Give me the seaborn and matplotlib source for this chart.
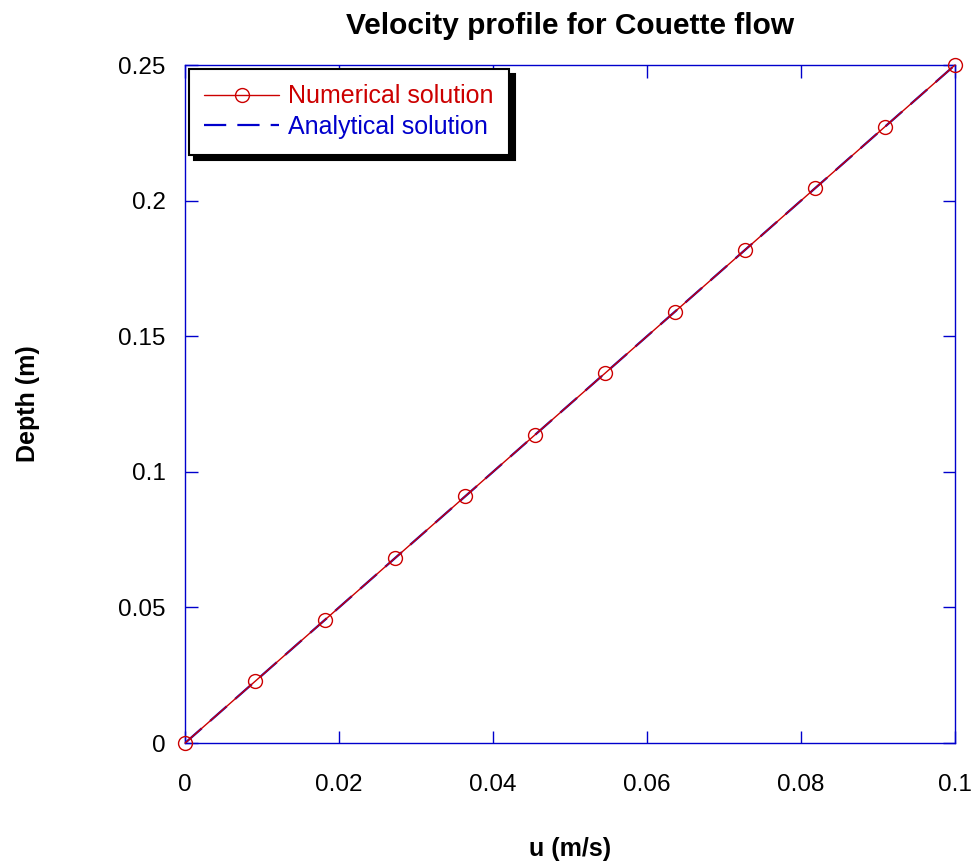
#!/usr/bin/env python3
"""Velocity profile for Couette flow: numerical vs analytical."""

import pandas as pd
import seaborn as sns
import matplotlib.pyplot as plt


U_NUM = [0, 0.00909, 0.01818, 0.02727, 0.03636, 0.04545,
         0.05455, 0.06364, 0.07273, 0.08182, 0.09091, 0.1]
DEPTH_NUM = [0, 0.02273, 0.04545, 0.06818, 0.09091, 0.11364,
             0.13636, 0.15909, 0.18182, 0.20455, 0.22727, 0.25]
U_ANA = [0, 0.1]
DEPTH_ANA = [0, 0.25]

RED = "#cc0000"
BLUE = "#0000cc"


def main():
    num = pd.DataFrame({"u": U_NUM, "depth": DEPTH_NUM})
    ana = pd.DataFrame({"u": U_ANA, "depth": DEPTH_ANA})

    sns.set_theme(style="white")
    plt.rcParams["font.family"] = ["Liberation Sans", "DejaVu Sans"]
    plt.rcParams["text.color"] = "black"
    plt.rcParams["axes.labelcolor"] = "black"

    fig = plt.figure(figsize=(9.74, 8.67), dpi=100)
    ax = fig.add_axes([0.19, 0.143, 0.7905, 0.782])

    sns.lineplot(data=num, x="u", y="depth", ax=ax, sort=False, color=RED,
                 lw=1, marker="o", markersize=10, markerfacecolor="none",
                 markeredgecolor=RED, markeredgewidth=1,
                 label="Numerical solution", clip_on=False, zorder=4)
    sns.lineplot(data=ana, x="u", y="depth", ax=ax, sort=False, color=BLUE,
                 lw=1.6, label="Analytical solution", zorder=3)
    ax.lines[-1].set_dashes([10, 5])

    ax.set_xlim(0, 0.1)
    ax.set_ylim(0, 0.25)
    ax.set_xticks([0, 0.02, 0.04, 0.06, 0.08, 0.1])
    ax.set_xticklabels(["0", "0.02", "0.04", "0.06", "0.08", "0.1"])
    ax.set_yticks([0, 0.05, 0.1, 0.15, 0.2, 0.25])
    ax.set_yticklabels(["0", "0.05", "0.1", "0.15", "0.2", "0.25"])

    for s in ax.spines.values():
        s.set_color(BLUE)
        s.set_linewidth(1)
        s.set_zorder(2)
    ax.tick_params(axis="both", direction="in", length=9, width=1,
                   color=BLUE, labelsize=17.5, labelcolor="black",
                   top=True, right=True, bottom=True, left=True)
    ax.tick_params(axis="x", pad=22)
    ax.tick_params(axis="y", pad=14)

    ax.set_xlabel("u (m/s)", fontsize=18, fontweight="bold", labelpad=30)
    ax.set_ylabel("Depth (m)", fontsize=18, fontweight="bold", labelpad=56)
    ax.set_title("Velocity profile for Couette flow", fontsize=21.5,
                 fontweight="bold", pad=22)

    leg = ax.legend(loc="upper left", fontsize=18,
                    frameon=True, fancybox=False, framealpha=1,
                    edgecolor="black", borderaxespad=0.15, handlelength=3.0,
                    borderpad=0.62, labelspacing=0.27, handletextpad=0.35,
                    shadow={"ox": 4, "oy": -4, "color": "black", "alpha": 1})
    leg.get_frame().set_linewidth(1.5)
    leg.set_zorder(10)
    for txt, c in zip(leg.get_texts(), [RED, BLUE]):
        txt.set_color(c)

    fig.savefig("out.png", dpi=100)


if __name__ == "__main__":
    main()
